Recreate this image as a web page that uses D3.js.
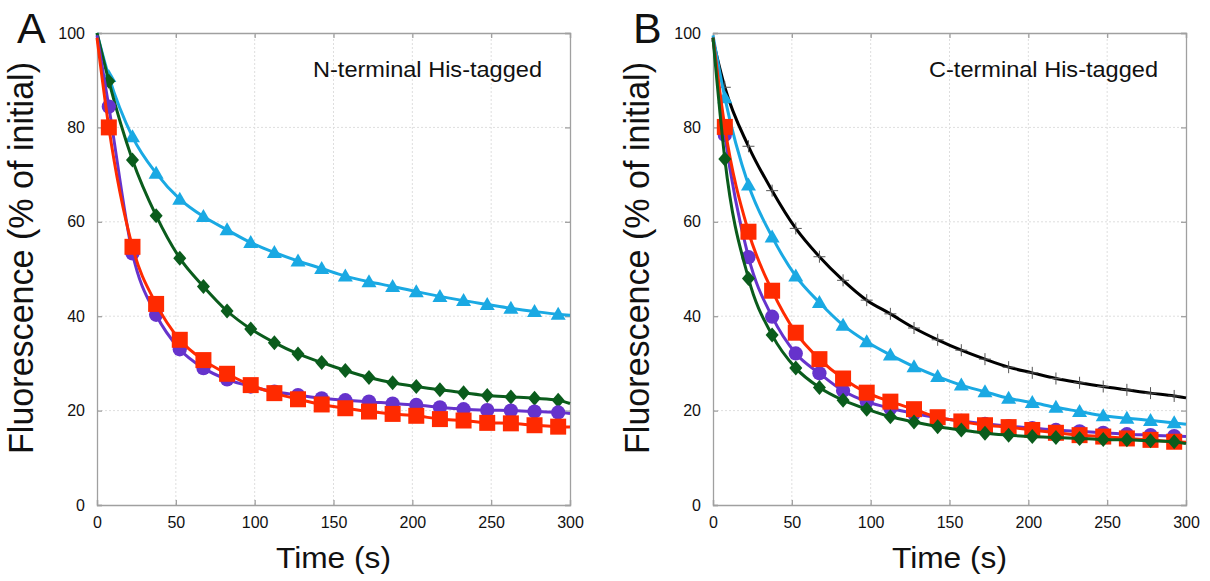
<!DOCTYPE html>
<html>
<head>
	<script src="https://cdn.jsdelivr.net/npm/d3@7"></script>
	<style>
		body { margin: 0; background: white; }
		text { font-family: "Liberation Sans", Arial, sans-serif; fill: #111; }
	</style>
</head>
<body>
	<script>
		// time points (s): start, measured points, end of fit line
		var times = [0, 7.5, 22.5, 37.5, 52.5, 67.5, 82.5, 97.5, 112.5, 127.5, 142.5,
			157.5, 172.5, 187.5, 202.5, 217.5, 232.5, 247.5, 262.5, 277.5, 292.5, 300];

		var xTicks = [0, 50, 100, 150, 200, 250, 300];
		var yTicks = [0, 20, 40, 60, 80, 100];

		// panel A - N-terminal
		var nBlue = [100, 90.8, 78, 70.3, 64.8, 61.1, 58.3, 55.6, 53.5, 51.7, 50.1, 48.5, 47.3, 46.3, 45.2, 44.2, 43.3, 42.5, 41.7, 41.0, 40.4, 40.2];
		var nGreen = [100, 89.8, 73.1, 61.3, 52.3, 46.3, 41.1, 37.3, 34.4, 32.0, 30.2, 28.5, 27.0, 25.9, 25.1, 24.4, 23.8, 23.2, 22.9, 22.6, 22.2, 21.5];
		var nPurple = [99.5, 84.4, 53.3, 40.3, 33.0, 29.0, 26.6, 25.1, 24.0, 23.3, 22.6, 22.2, 21.9, 21.5, 21.2, 20.7, 20.3, 20.1, 20.0, 19.8, 19.6, 19.4];
		var nRed = [99, 80.0, 54.7, 42.6, 35.0, 30.7, 27.8, 25.4, 23.7, 22.4, 21.3, 20.5, 19.8, 19.3, 18.9, 18.2, 17.9, 17.4, 17.3, 16.9, 16.6, 16.5];

		// panel B - C-terminal
		var cBlack = [98.5, 88.5, 76.0, 66.6, 58.6, 52.6, 47.6, 43.4, 40.5, 37.5, 35.0, 32.8, 30.9, 29.2, 28.0, 26.8, 25.9, 25.1, 24.4, 23.7, 23.1, 22.7];
		var cBlue = [99.5, 86.3, 67.8, 56.8, 48.5, 42.9, 38.1, 34.6, 31.8, 29.3, 27.2, 25.4, 24.0, 22.6, 21.7, 20.7, 19.8, 18.9, 18.4, 17.9, 17.4, 17.1];
		var cPurple = [99, 78.4, 52.5, 39.9, 32.1, 27.9, 24.2, 21.9, 20.5, 19.4, 18.5, 17.8, 17.2, 16.7, 16.3, 15.9, 15.6, 15.3, 15.0, 14.8, 14.6, 14.5];
		var cRed = [99, 80.1, 57.9, 45.4, 36.5, 30.9, 26.8, 23.8, 21.9, 20.3, 18.6, 17.7, 16.9, 16.5, 15.9, 15.3, 14.8, 14.5, 14.1, 13.8, 13.4, 13.3];
		var cGreen = [99, 73.3, 48.0, 36.0, 29.0, 24.9, 22.2, 20.3, 18.7, 17.6, 16.6, 15.9, 15.2, 14.8, 14.5, 14.3, 14.1, 13.9, 13.8, 13.6, 13.4, 13.0];

		var BLUE = '#1aa9e3', GREEN = '#0a5c1c', PURPLE = '#6633cc', RED = '#ff2a00', BLACK = '#000';

		var width = 1210, height = 581;
		var svg = d3.select('body').append('svg')
			.attr('width', width)
			.attr('height', height);

		function markerPath(shape) {
			if (shape == 'square') return 'M-8,-8H8V8H-8Z';
			if (shape == 'diamond') return 'M0,-7.5L6.5,0L0,7.5L-6.5,0Z';
			if (shape == 'triangle') return 'M0,-7.5L7.5,5.5L-7.5,5.5Z';
			if (shape == 'plus') return 'M-6,0H6M0,-6V6';
			return d3.symbol().type(d3.symbolCircle).size(160)();
		}

		function drawPanel(left, letter, label, series) {
			var x = d3.scaleLinear().domain([0, 300]).range([left, left + 473]);
			var y = d3.scaleLinear().domain([0, 100]).range([505, 33]);
			var g = svg.append('g');

			// dotted grid
			g.selectAll('.gx').data(xTicks.slice(1, -1)).enter().append('line')
				.attr('x1', d => x(d)).attr('x2', d => x(d))
				.attr('y1', y(0)).attr('y2', y(100))
				.attr('stroke', '#dedede').attr('stroke-dasharray', '2,2');
			g.selectAll('.gy').data(yTicks.slice(1, -1)).enter().append('line')
				.attr('x1', x(0)).attr('x2', x(300))
				.attr('y1', d => y(d)).attr('y2', d => y(d))
				.attr('stroke', '#dedede').attr('stroke-dasharray', '2,2');

			// axes, ticks inward on all sides
			var axB = g.append('g').attr('transform', 'translate(0,' + y(0) + ')')
				.call(d3.axisBottom(x).tickValues(xTicks).tickSize(-5).tickPadding(12));
			var axT = g.append('g').attr('transform', 'translate(0,' + y(100) + ')')
				.call(d3.axisTop(x).tickValues(xTicks).tickSize(-5).tickFormat(''));
			var axL = g.append('g').attr('transform', 'translate(' + x(0) + ',0)')
				.call(d3.axisLeft(y).tickValues(yTicks).tickSize(-5).tickPadding(12));
			var axR = g.append('g').attr('transform', 'translate(' + x(300) + ',0)')
				.call(d3.axisRight(y).tickValues(yTicks).tickSize(-5).tickFormat(''));
			[axB, axT, axL, axR].forEach(function (a) {
				a.selectAll('path, line').attr('stroke', '#a0a0a0').attr('stroke-width', 1.3);
				a.selectAll('text').style('font-size', '16px').attr('fill', '#222');
			});

			var line = d3.line()
				.x((d, i) => x(times[i]))
				.y(d => y(d))
				.curve(d3.curveMonotoneX);

			series.forEach(function (s) {
				g.append('path')
					.attr('d', line(s.values))
					.attr('fill', 'none')
					.attr('stroke', s.color)
					.attr('stroke-width', 3);
				var pts = s.values.slice(1, -1);
				g.selectAll(null).data(pts).enter().append('path')
					.attr('transform', (d, i) => 'translate(' + x(times[i + 1]) + ',' + y(d) + ')')
					.attr('d', markerPath(s.shape))
					.attr('fill', s.shape == 'plus' ? 'none' : s.color)
					.attr('stroke', s.shape == 'plus' ? '#555' : 'none')
					.attr('stroke-width', 1);
			});

			// texts
			g.append('text')
				.attr('x', left - 80).attr('y', 43)
				.style('font-size', '43px')
				.text(letter);
			g.append('text')
				.attr('x', x(150)).attr('y', 568)
				.attr('text-anchor', 'middle')
				.attr('textLength', 115).attr('lengthAdjust', 'spacingAndGlyphs')
				.style('font-size', '29px')
				.text('Time (s)');
			g.append('text')
				.attr('transform', 'translate(' + (left - 64) + ',258) rotate(-90)')
				.attr('text-anchor', 'middle')
				.attr('textLength', 392).attr('lengthAdjust', 'spacingAndGlyphs')
				.style('font-size', '35px')
				.text('Fluorescence (% of initial)');
			g.append('text')
				.attr('x', left + 216).attr('y', 77)
				.attr('textLength', 229).attr('lengthAdjust', 'spacingAndGlyphs')
				.style('font-size', '22px')
				.text(label);
		}

		drawPanel(97, 'A', 'N-terminal His-tagged', [
			{values: nBlue, color: BLUE, shape: 'triangle'},
			{values: nGreen, color: GREEN, shape: 'diamond'},
			{values: nPurple, color: PURPLE, shape: 'circle'},
			{values: nRed, color: RED, shape: 'square'}
		]);

		drawPanel(713, 'B', 'C-terminal His-tagged', [
			{values: cBlack, color: BLACK, shape: 'plus'},
			{values: cBlue, color: BLUE, shape: 'triangle'},
			{values: cPurple, color: PURPLE, shape: 'circle'},
			{values: cRed, color: RED, shape: 'square'},
			{values: cGreen, color: GREEN, shape: 'diamond'}
		]);
	</script>
</body>
</html>
